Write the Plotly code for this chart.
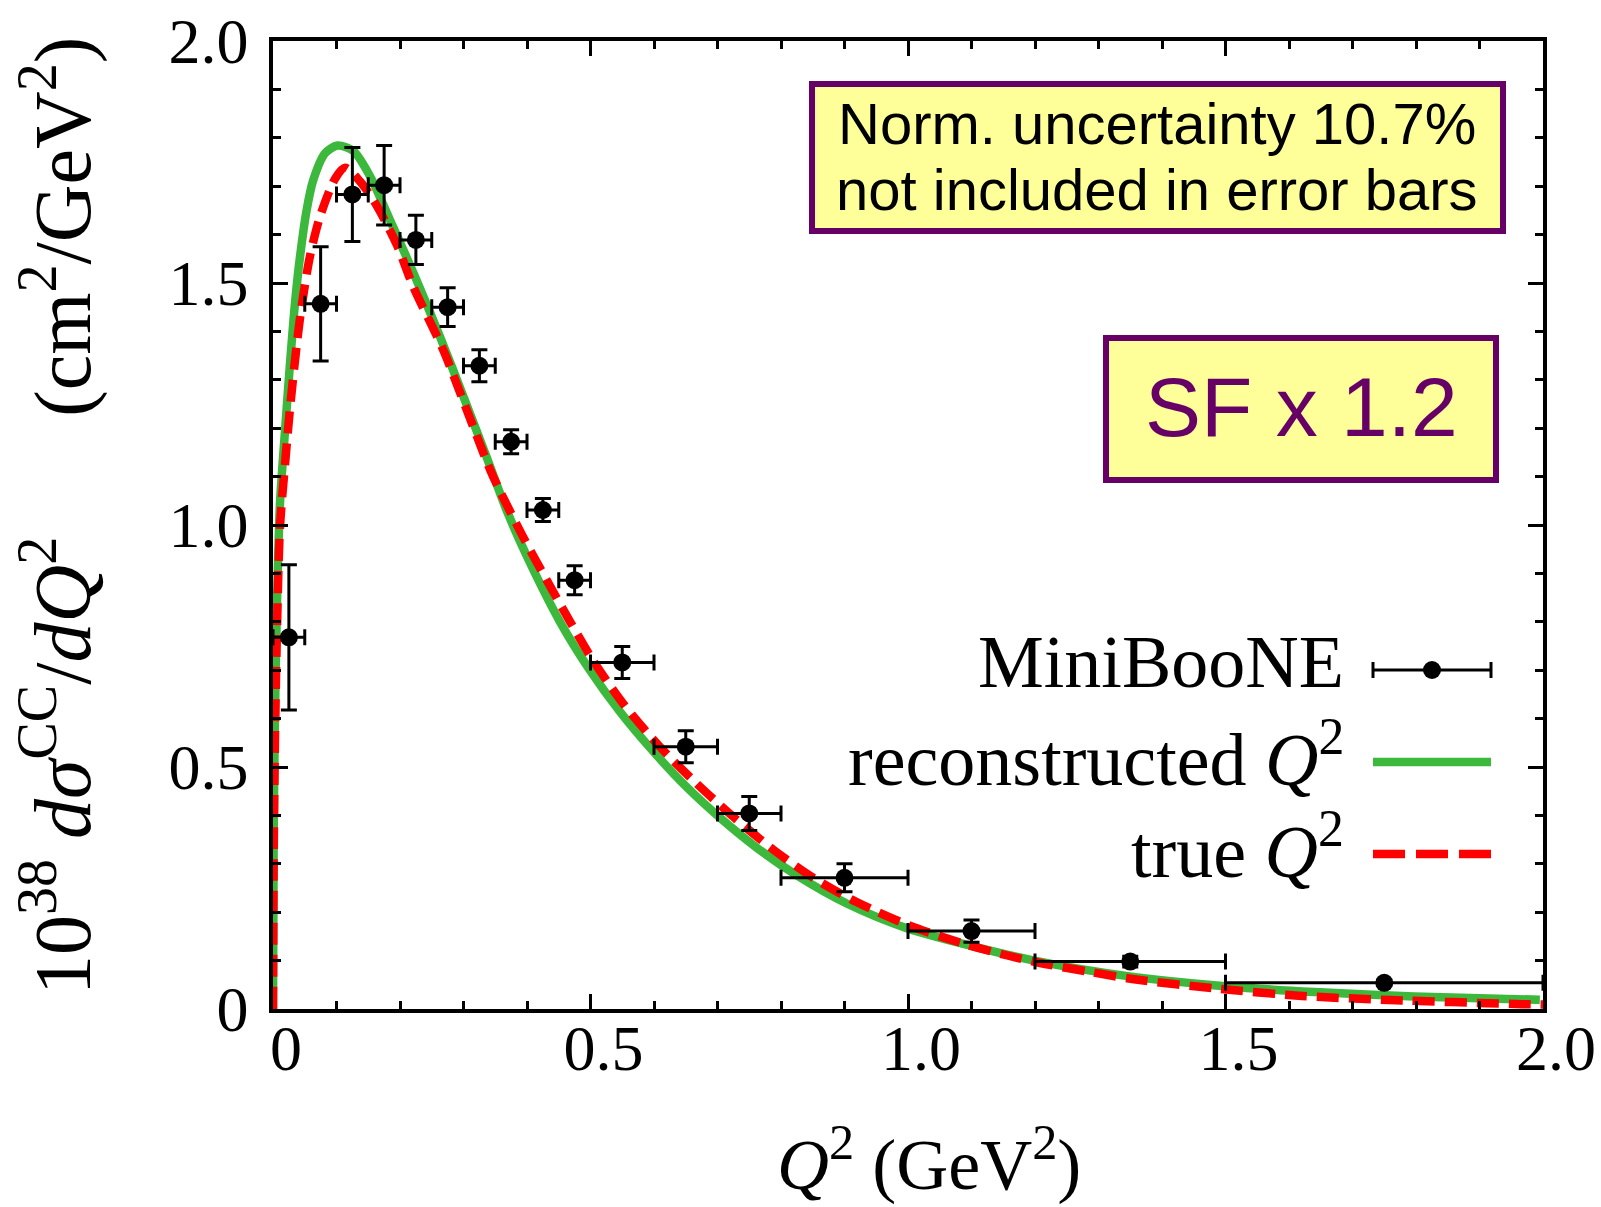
import plotly.graph_objects as go

# ---------------- data ----------------
# MiniBooNE data points: bin centres, values, bin half-widths, errors
q2_data = [0.025, 0.075, 0.125, 0.175, 0.225, 0.275, 0.325, 0.375, 0.425, 0.475,
           0.55, 0.65, 0.75, 0.90, 1.10, 1.35, 1.75]
xs_data = [0.768, 1.457, 1.683, 1.702, 1.589, 1.450, 1.329, 1.172, 1.031, 0.886,
           0.716, 0.542, 0.404, 0.271, 0.161, 0.098, 0.054]
q2_halfwidth = [0.025, 0.025, 0.025, 0.025, 0.025, 0.025, 0.025, 0.025, 0.025, 0.025,
                0.05, 0.05, 0.05, 0.10, 0.10, 0.15, 0.25]
xs_err = [0.150, 0.118, 0.097, 0.082, 0.051, 0.040, 0.033, 0.025, 0.024, 0.030,
          0.033, 0.033, 0.035, 0.029, 0.023, 0.011, 0.006]

# reconstructed Q^2 curve (green, solid)
q2_reco = [0.0, 0.001, 0.003, 0.006, 0.011, 0.019, 0.0268, 0.0346, 0.0425, 0.053,
           0.0635, 0.082, 0.1015, 0.1265, 0.153, 0.189, 0.226, 0.263, 0.300, 0.3365,
           0.368, 0.400, 0.452, 0.499, 0.546, 0.599, 0.651, 0.704, 0.762, 0.825,
           0.9035, 0.998, 1.098, 1.199, 1.346, 1.500, 1.640, 1.797, 1.995]
xs_reco = [0.0, 0.35, 0.60, 0.82, 1.045, 1.196, 1.334, 1.458, 1.554, 1.651,
           1.713, 1.768, 1.784, 1.773, 1.720, 1.616, 1.506, 1.389, 1.265, 1.140,
           1.030, 0.935, 0.800, 0.700, 0.615, 0.532, 0.459, 0.395, 0.333, 0.276,
           0.218, 0.167, 0.131, 0.100, 0.068, 0.047, 0.035, 0.026, 0.019]

# true Q^2 curve (red, dashed)
q2_true = [0.0, 0.001, 0.003, 0.006, 0.011, 0.019, 0.027, 0.037, 0.045, 0.058,
           0.074, 0.098, 0.1134, 0.137, 0.161, 0.195, 0.221, 0.268, 0.305, 0.342,
           0.3575, 0.394, 0.431, 0.468, 0.504, 0.552, 0.609, 0.667, 0.725, 0.788,
           0.851, 0.919, 1.003, 1.085, 1.150, 1.216, 1.281, 1.353, 1.483, 1.621,
           1.758, 1.967, 2.0]
xs_true = [0.0, 0.30, 0.55, 0.77, 0.996, 1.127, 1.244, 1.368, 1.451, 1.554,
           1.637, 1.716, 1.738, 1.710, 1.665, 1.579, 1.492, 1.362, 1.238, 1.114,
           1.070, 0.975, 0.886, 0.800, 0.720, 0.630, 0.542, 0.466, 0.397, 0.329,
           0.271, 0.221, 0.172, 0.136, 0.1126, 0.093, 0.078, 0.062, 0.0426, 0.027,
           0.0186, 0.010, 0.0095]

tick_vals = [0, 0.5, 1.0, 1.5, 2.0]
tick_text = ["0", "0.5", "1.0", "1.5", "2.0"]

legend_labels = ["MiniBooNE", "reconstructed <i>Q</i><sup>2</sup>", "true <i>Q</i><sup>2</sup>"]
note_lines = ["Norm. uncertainty 10.7%", "not included in error bars"]
sf_label = "SF x 1.2"

# ---------------- styling ----------------
W_FIG, H_FIG = 1601, 1207
L, R, T, B = 273, 1543, 41, 1009
GREEN = "#3cb83c"
RED = "#ff0000"
PURPLE = "#660066"
YELLOW = "#ffff99"
SERIF = "Liberation Serif"
SANS = "Liberation Sans"


def px(x):
    return (x - L) / (R - L)


def py(y):
    return (B - y) / (B - T)


fig = go.Figure()

fig.add_trace(go.Scatter(
    x=q2_reco, y=xs_reco, mode="lines",
    line=dict(color=GREEN, width=8.5, shape="spline", smoothing=0.8),
    showlegend=False, hoverinfo="skip"))

fig.add_trace(go.Scatter(
    x=q2_true, y=xs_true, mode="lines",
    line=dict(color=RED, width=8.5, dash="22px,10px", shape="spline", smoothing=0.8),
    showlegend=False, hoverinfo="skip"))

fig.add_trace(go.Scatter(
    x=q2_data, y=xs_data, mode="markers",
    marker=dict(color="black", size=18),
    error_x=dict(type="data", array=q2_halfwidth, color="black", thickness=3, width=8),
    error_y=dict(type="data", array=xs_err, color="black", thickness=3, width=8),
    showlegend=False))

axis_common = dict(
    range=[0, 2], tickvals=tick_vals, ticktext=tick_text,
    showline=True, linecolor="black", linewidth=3.5, mirror="ticks",
    ticks="inside", ticklen=15, tickwidth=3, tickcolor="black",
    showgrid=False, zeroline=False, automargin=False,
    tickfont=dict(family=SERIF, size=64, color="black"),
    minor=dict(dtick=0.1, ticks="inside", ticklen=8, tickwidth=3, tickcolor="black", showgrid=False),
)

fig.update_layout(
    width=W_FIG, height=H_FIG,
    margin=dict(l=L, r=W_FIG - R, t=T, b=H_FIG - B, autoexpand=False),
    paper_bgcolor="white", plot_bgcolor="white",
    xaxis=dict(**axis_common, ticklabelstandoff=-20, ticklabelshift=13),
    yaxis=dict(**axis_common, ticklabelstandoff=8),
    showlegend=False,
)

shapes = []
annotations = []

# axis titles
annotations.append(dict(
    xref="paper", yref="paper", x=px(929), y=py(1159), xanchor="center", yanchor="middle",
    text="<i>Q</i><sup>2</sup> (GeV<sup>2</sup>)", showarrow=False,
    font=dict(family=SERIF, size=72, color="black")))
annotations.append(dict(
    xref="paper", yref="paper", x=px(57), y=py(516), xanchor="center", yanchor="middle",
    textangle=-90,
    text="10<sup>38</sup> <i>dσ</i><sup>CC</sup>/<i>dQ</i><sup>2</sup>\u2003\u2002(cm<sup>2</sup>/GeV<sup>2</sup>)",
    showarrow=False, font=dict(family=SERIF, size=80, color="black")))

# note box
shapes.append(dict(type="rect", xref="paper", yref="paper",
                   x0=px(812), x1=px(1503), y0=py(231), y1=py(84),
                   fillcolor=YELLOW, line=dict(color=PURPLE, width=6), layer="above"))
for txt, yc in zip(note_lines, [124, 189]):
    annotations.append(dict(
        xref="paper", yref="paper", x=px(1157), y=py(yc), xanchor="center", yanchor="middle",
        text=txt, showarrow=False, font=dict(family=SANS, size=58, color="black")))

# SF box
shapes.append(dict(type="rect", xref="paper", yref="paper",
                   x0=px(1106), x1=px(1496), y0=py(480), y1=py(338),
                   fillcolor=YELLOW, line=dict(color=PURPLE, width=6), layer="above"))
annotations.append(dict(
    xref="paper", yref="paper", x=px(1301), y=py(407), xanchor="center", yanchor="middle",
    text=sf_label, showarrow=False, font=dict(family=SANS, size=84, color=PURPLE)))

# legend (text on the left, sample on the right)
rows_y = [670, 762, 854]
lx0, lx1, ldot = 1373, 1491, 1432
for lab, yc in zip(legend_labels, rows_y):
    annotations.append(dict(
        xref="paper", yref="paper", x=px(1346), y=py(yc - 8), xanchor="right", yanchor="middle",
        text=lab, showarrow=False, font=dict(family=SERIF, size=74, color="black")))

# MiniBooNE sample
y0 = rows_y[0]
shapes.append(dict(type="line", xref="paper", yref="paper",
                   x0=px(lx0), x1=px(lx1), y0=py(y0), y1=py(y0),
                   line=dict(color="black", width=3)))
for xe in (lx0, lx1):
    shapes.append(dict(type="line", xref="paper", yref="paper",
                       x0=px(xe), x1=px(xe), y0=py(y0 - 8), y1=py(y0 + 8),
                       line=dict(color="black", width=3)))
shapes.append(dict(type="circle", xref="paper", yref="paper",
                   x0=px(ldot - 9), x1=px(ldot + 9), y0=py(y0 + 9), y1=py(y0 - 9),
                   fillcolor="black", line=dict(color="black", width=0)))
# reconstructed sample
shapes.append(dict(type="line", xref="paper", yref="paper",
                   x0=px(lx0), x1=px(lx1), y0=py(rows_y[1]), y1=py(rows_y[1]),
                   line=dict(color=GREEN, width=8.5)))
# true sample
shapes.append(dict(type="line", xref="paper", yref="paper",
                   x0=px(lx0), x1=px(lx1), y0=py(rows_y[2]), y1=py(rows_y[2]),
                   line=dict(color=RED, width=8.5, dash="32px,11px")))

fig.update_layout(shapes=shapes, annotations=annotations)

fig.write_html("out.html")
